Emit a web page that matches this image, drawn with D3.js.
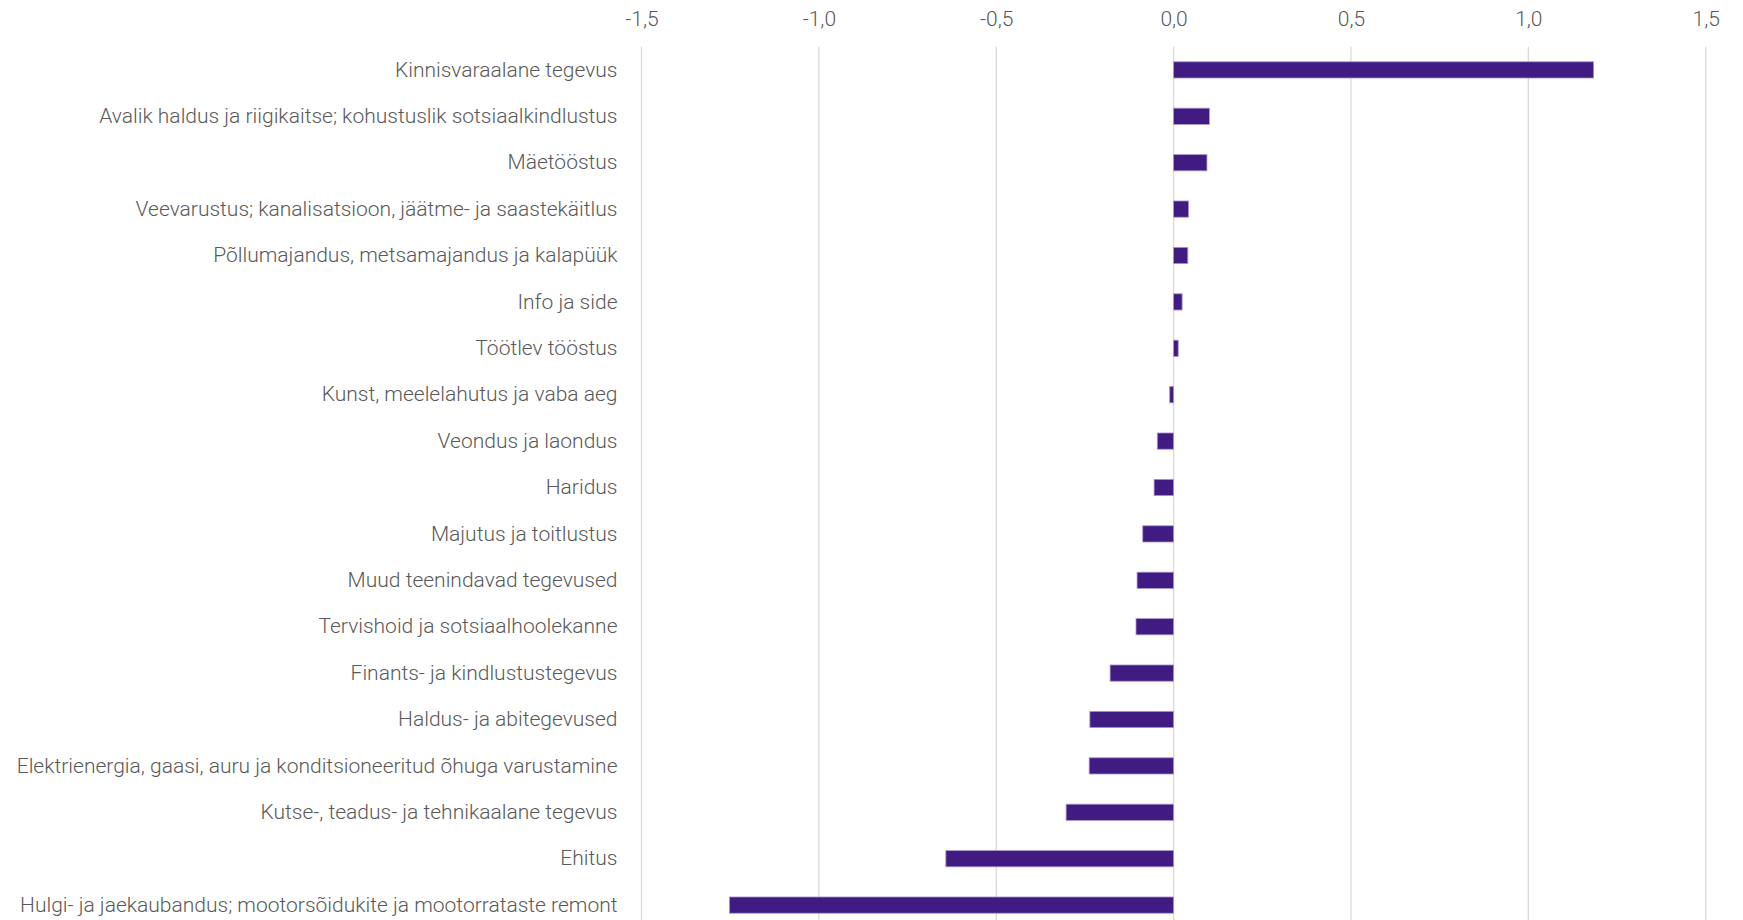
<!DOCTYPE html>
<html>
<head>
<meta charset="utf-8">
<script src="https://cdn.jsdelivr.net/npm/d3@7"></script>
<style>
    html, body { margin: 0; padding: 0; background: #fff; }
    svg text { font-family: Roboto, "Noto Sans", sans-serif; font-weight: 300; fill: #595959; }
</style>
</head>
<body>
<div id="chart"></div>
<script>
(function(){
    "use strict";

    var categories = [
        "Kinnisvaraalane tegevus",
        "Avalik haldus ja riigikaitse; kohustuslik sotsiaalkindlustus",
        "Mäetööstus",
        "Veevarustus; kanalisatsioon, jäätme- ja saastekäitlus",
        "Põllumajandus, metsamajandus ja kalapüük",
        "Info ja side",
        "Töötlev tööstus",
        "Kunst, meelelahutus ja vaba aeg",
        "Veondus ja laondus",
        "Haridus",
        "Majutus ja toitlustus",
        "Muud teenindavad tegevused",
        "Tervishoid ja sotsiaalhoolekanne",
        "Finants- ja kindlustustegevus",
        "Haldus- ja abitegevused",
        "Elektrienergia, gaasi, auru ja konditsioneeritud õhuga varustamine",
        "Kutse-, teadus- ja tehnikaalane tegevus",
        "Ehitus",
        "Hulgi- ja jaekaubandus; mootorsõidukite ja mootorrataste remont"
    ];
    var values = [1.184, 0.101, 0.094, 0.042, 0.040, 0.024, 0.013, -0.011, -0.046, -0.055,
                  -0.087, -0.103, -0.106, -0.179, -0.236, -0.238, -0.303, -0.642, -1.252];
    var xTicks = [-1.5, -1.0, -0.5, 0.0, 0.5, 1.0, 1.5];

    var width = 1743, height = 920;
    var margin = { top: 46.7, left: 641.5, right: 37.3 };
    var step = 46.4;

    var svg = d3.select("#chart").append("svg")
        .attr("width", width)
        .attr("height", height);

    var x = d3.scaleLinear()
        .domain([-1.5, 1.5])
        .range([margin.left, width - margin.right]);

    var y = d3.scaleBand()
        .domain(categories)
        .range([margin.top, margin.top + step * categories.length])
        .paddingInner(0.65)
        .paddingOuter(0.325);

    var fmt = function(d) { return d3.format(".1f")(d).replace("−", "-").replace(".", ","); };

    // gridlines
    svg.append("g")
        .selectAll("line")
        .data(xTicks)
        .enter()
        .append("line")
        .attr("x1", function(d) { return x(d); })
        .attr("x2", function(d) { return x(d); })
        .attr("y1", margin.top)
        .attr("y2", margin.top + step * categories.length)
        .attr("stroke", "#d9d9d9")
        .attr("stroke-width", 1.3);

    // top axis labels
    var xAxis = svg.append("g")
        .attr("transform", "translate(0," + 26 + ")")
        .call(d3.axisTop(x).tickValues(xTicks).tickFormat(fmt).tickSize(0).tickPadding(0));
    xAxis.select(".domain").remove();
    xAxis.selectAll("text")
        .attr("font-size", 21)
        .style("font-family", "Roboto, 'Noto Sans', sans-serif")
        .style("font-weight", 300)
        .attr("fill", "#595959");

    // bars
    svg.append("g")
        .selectAll("rect")
        .data(values)
        .enter()
        .append("rect")
        .attr("x", function(d) { return x(Math.min(0, d)); })
        .attr("y", function(d, i) { return y(categories[i]); })
        .attr("width", function(d) { return Math.abs(x(d) - x(0)); })
        .attr("height", y.bandwidth())
        .attr("fill", "#401b82")
        .attr("stroke", "#a996cf")
        .attr("stroke-width", 0.8);

    // category labels
    var yAxis = svg.append("g")
        .attr("transform", "translate(" + (margin.left - 24) + ",0)")
        .call(d3.axisLeft(y).tickSize(0).tickPadding(0));
    yAxis.select(".domain").remove();
    yAxis.selectAll("text")
        .attr("font-size", 21)
        .style("font-family", "Roboto, 'Noto Sans', sans-serif")
        .style("font-weight", 300)
        .attr("fill", "#595959");
})();
</script>
</body>
</html>
